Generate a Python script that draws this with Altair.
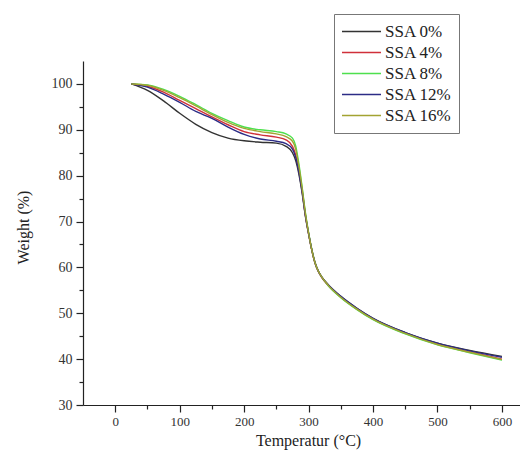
import altair as alt
import pandas as pd

temps = [25, 50, 75, 100, 125, 150, 175, 200, 225, 250, 265, 275, 280, 285, 290, 295,
         300, 305, 310, 315, 320, 330, 350, 375, 400, 450, 500, 550, 600]

ssa0 = [100, 98.6, 96.3, 93.6, 91.2, 89.4, 88.2, 87.6, 87.3, 87.1, 86.4, 85.0, 83.3, 80.3,
        76.2, 71.2, 67.3, 63.8, 61.0, 59.2, 58.0, 56.3, 53.7, 51.1, 48.9, 45.8, 43.5, 41.9, 40.6]
ssa4 = [100, 99.5, 98.2, 96.4, 94.6, 92.8, 91.1, 89.6, 88.9, 88.4, 87.8, 86.4, 84.5, 81.2,
        76.8, 71.5, 67.3, 63.7, 60.9, 59.1, 57.9, 56.1, 53.5, 50.9, 48.7, 45.6, 43.3, 41.6, 40.0]
ssa8 = [100, 99.8, 98.8, 97.3, 95.5, 93.6, 92.0, 90.6, 90.0, 89.6, 89.1, 88.2, 86.5, 82.5,
        77.5, 72.0, 67.6, 63.9, 61.0, 59.2, 58.0, 56.1, 53.4, 50.8, 48.6, 45.5, 43.1, 41.4, 39.8]
ssa12 = [100, 99.3, 97.8, 96.0, 94.0, 92.5, 90.6, 89.0, 88.0, 87.5, 87.0, 85.8, 84.0, 80.8,
         76.5, 71.4, 67.4, 63.8, 61.0, 59.2, 58.0, 56.3, 53.7, 51.1, 48.9, 45.8, 43.5, 41.8, 40.4]
ssa16 = [100, 99.7, 98.6, 97.0, 95.2, 93.3, 91.6, 90.3, 89.6, 89.1, 88.5, 87.5, 85.8, 82.0,
         77.2, 71.8, 67.5, 63.8, 61.0, 59.2, 58.0, 56.2, 53.5, 50.9, 48.7, 45.6, 43.2, 41.5, 39.9]

series = ["SSA 0%", "SSA 4%", "SSA 8%", "SSA 12%", "SSA 16%"]
colors = ["#333333", "#d0303a", "#4ee04e", "#2c2c86", "#a3a332"]

x_major = [0, 100, 200, 300, 400, 500, 600]
x_minor = [50, 150, 250, 350, 450, 550]
y_major = [30, 40, 50, 60, 70, 80, 90, 100]
y_minor = [35, 45, 55, 65, 75, 85, 95]

rows = []
for name, vals in zip(series, [ssa0, ssa4, ssa8, ssa12, ssa16]):
    for t, v in zip(temps, vals):
        rows.append({"T": t, "W": v, "S": name})
df = pd.DataFrame(rows)

FONT = "Liberation Serif"
xs = alt.Scale(domain=[-50, 628], nice=False, zero=False)
ys = alt.Scale(domain=[30, 105], nice=False, zero=False)

common_axis = dict(grid=False, domainColor="#222222", tickColor="#222222",
                   labelColor="#333333", labelFont=FONT, titleFont=FONT,
                   titleFontWeight="normal", titleColor="#222222", tickWidth=1.2,
                   domainWidth=1.2)

lines = alt.Chart(df).mark_line(strokeWidth=1.4, interpolate="monotone").encode(
    x=alt.X("T:Q", scale=xs, axis=alt.Axis(
        values=x_major, tickSize=7, labelFontSize=13, labelPadding=3,
        title="Temperatur (°C)", titleFontSize=16, titleX=225, titleY=40,
        titleAlign="center", titleBaseline="alphabetic", orient="bottom",
        **common_axis)),
    y=alt.Y("W:Q", scale=ys, axis=alt.Axis(
        values=y_major, tickSize=7, labelFontSize=14, labelPadding=4,
        title="Weight (%)", titleFontSize=16, titleX=-55, titleY=166,
        titleAngle=270, titleAlign="center", titleBaseline="alphabetic",
        orient="left", **common_axis)),
    color=alt.Color("S:N", scale=alt.Scale(domain=series, range=colors), sort=series,
                    legend=alt.Legend(
                        orient="none", legendX=251, legendY=-47, title=None,
                        strokeColor="#777777", fillColor="white", padding=7,
                        symbolType="stroke", symbolSize=1521, symbolStrokeWidth=1.5,
                        labelFont=FONT, labelFontSize=17, labelColor="#222222",
                        labelOffset=3, clipHeight=21, rowPadding=0)),
)

minor = alt.Chart(df).mark_line(opacity=0).encode(
    x=alt.X("T:Q", scale=xs, axis=alt.Axis(
        values=x_minor, tickSize=4, labels=False, domain=False, title=None,
        orient="bottom", grid=False, tickColor="#222222", tickWidth=1.2)),
    y=alt.Y("W:Q", scale=ys, axis=alt.Axis(
        values=y_minor, tickSize=4, labels=False, domain=False, title=None,
        orient="left", grid=False, tickColor="#222222", tickWidth=1.2)),
    detail="S:N",
)

chart = alt.layer(minor, lines).resolve_axis(x="independent", y="independent").properties(
    width=437, height=344,
    autosize=alt.AutoSizeParams(type="none"),
    padding={"left": 75, "top": 53, "right": 0, "bottom": 47},
    background="white",
).configure_view(stroke=None)

chart.save("out.html", embed_options={"renderer": "svg", "actions": False})
